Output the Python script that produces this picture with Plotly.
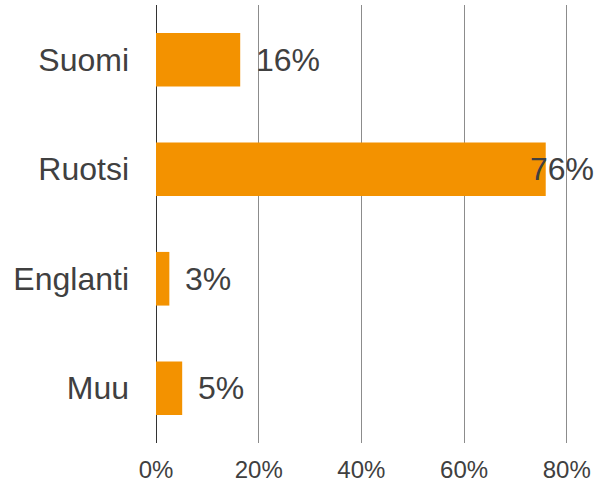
import plotly.graph_objects as go

categories = ["Suomi", "Ruotsi", "Englanti", "Muu"]
values = [16.4, 75.9, 2.6, 5.1]
tick_vals = [0, 20, 40, 60, 80]
tick_text = ["0%", "20%", "40%", "60%", "80%"]

BAR_COLOR = "#F39200"
TEXT_COLOR = "#404040"
X_MAX = 85.3
W, H = 594, 487
ML, MR, MT, MB = 156, 0, 5, 44

fig = go.Figure()
fig.add_trace(go.Bar(
    y=categories, x=values, orientation="h",
    marker=dict(color=BAR_COLOR, line=dict(width=0)),
    width=0.49, hoverinfo="skip",
))

labels = [f"{round(v)}%" for v in values]
px_per_unit = (W - ML - MR) / X_MAX
for cat, v, lab in zip(categories, values, labels):
    est_w = 32 * 0.556 * (len(lab) - 1) + 32 * 0.889
    end_px = v * px_per_unit + 16 + est_w
    if end_px > (W - ML - MR):
        fig.add_annotation(x=1, xref="paper", y=cat, yref="y", text=lab,
                           showarrow=False, xanchor="right", xshift=2,
                           font=dict(size=32, color=TEXT_COLOR, family="Liberation Sans, Arial"))
    else:
        fig.add_annotation(x=v, y=cat, text=lab, showarrow=False, xanchor="left",
                           xshift=14,
                           font=dict(size=32, color=TEXT_COLOR, family="Liberation Sans, Arial"))

fig.update_layout(
    width=W, height=H,
    margin=dict(l=ML, r=MR, t=MT, b=MB, pad=0, autoexpand=False),
    plot_bgcolor="white", paper_bgcolor="white",
    showlegend=False,
    font=dict(family="Liberation Sans, Arial", color=TEXT_COLOR),
    xaxis=dict(
        range=[0, X_MAX], tickvals=tick_vals, ticktext=tick_text,
        showgrid=True, gridcolor="#8c8c8c", gridwidth=1,
        zeroline=True, zerolinecolor="#333333", zerolinewidth=1,
        showline=False, ticks="", ticklabelstandoff=10,
        tickfont=dict(size=24, color=TEXT_COLOR),
        automargin=False, fixedrange=True,
    ),
    yaxis=dict(
        categoryorder="array", categoryarray=categories[::-1],
        range=[-0.5, 3.5], showgrid=False, zeroline=False, showline=False,
        ticks="", ticklabelstandoff=26,
        tickfont=dict(size=32, color=TEXT_COLOR),
        automargin=False, fixedrange=True,
    ),
)

fig.write_html(
    "out.html",
    config={"displayModeBar": False},
    post_script="document.body.style.margin='0';document.body.style.padding='0';document.body.style.overflow='hidden';",
)
